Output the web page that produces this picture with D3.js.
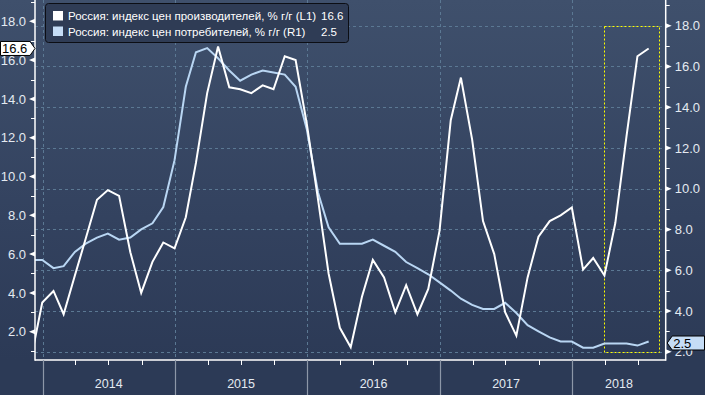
<!DOCTYPE html>
<html>
<head>
<meta charset="utf-8">
<script src="https://cdn.jsdelivr.net/npm/d3@7"></script>
<style>
  html, body { margin: 0; padding: 0; background: #2c3a56; }
  svg { display: block; }
</style>
</head>
<body>
<div id="chart"></div>
<script>
// monthly observations, Nov 2013 .. Jul 2018 (month-end)
const firstMonth = [2013, 10]; // year, zero-based month
const ppi = [
  0.6, 3.5, 4.1, 2.9, 4.9, 6.8, 8.8, 9.3, 9.0, 6.1, 4.0, 5.6, 6.6, 6.3,
  7.9, 10.7, 14.3, 16.7, 14.6, 14.5, 14.3, 14.7, 14.5, 16.2, 16.0, 12.7,
  8.8, 5.0, 2.2, 1.2, 3.8, 5.7, 4.8, 3.0, 4.4, 2.9, 4.2, 7.2,
  12.9, 15.1, 11.9, 7.7, 6.0, 3.0, 1.8, 4.8, 6.9, 7.7, 8.0, 8.4,
  5.2, 5.8, 4.9, 7.6, 12.1, 16.2, 16.6
];
const cpi = [
  6.5, 6.5, 6.1, 6.2, 6.9, 7.3, 7.6, 7.8, 7.5, 7.6, 8.0, 8.3, 9.1, 11.4,
  15.0, 16.7, 16.9, 16.4, 15.8, 15.3, 15.6, 15.8, 15.7, 15.6, 15.0, 12.9,
  9.8, 8.1, 7.3, 7.3, 7.3, 7.5, 7.2, 6.9, 6.4, 6.1, 5.8, 5.4,
  5.0, 4.6, 4.3, 4.1, 4.1, 4.4, 3.9, 3.3, 3.0, 2.7, 2.5, 2.5,
  2.2, 2.2, 2.4, 2.4, 2.4, 2.3, 2.5
];
const seriesNames = [
  "Россия: индекс цен производителей, % г/г (L1)",
  "Россия: индекс цен потребителей, % г/г (R1)"
];
const lastValues = ["16.6", "2.5"];
const years = [2014, 2015, 2016, 2017, 2018];
const leftTicks = [2, 4, 6, 8, 10, 12, 14, 16, 18];
const rightTicks = [2, 4, 6, 8, 10, 12, 14, 16, 18];
// dotted highlight box: Mar 2018 .. Aug 2018, right axis 2..18
const highlightDates = ["2018-03-31", "2018-08-31"];
const highlightRange = [2, 18];

const width = 705;
const height = 395;
const plotLeft = 35, plotRight = 665.7, plotTop = 0, plotBottom = 360;

const dates = ppi.map((_, i) => new Date(Date.UTC(firstMonth[0], firstMonth[1] + i + 1, 0)));

const x = d3.scaleUtc()
  .domain([new Date(Date.UTC(2013, 11, 11)), new Date(Date.UTC(2018, 8, 16))])
  .range([plotLeft, plotRight]);
const yL = d3.scaleLinear().domain([2, 18]).range([331.7, 21.3]);
const yR = d3.scaleLinear().domain([2, 18]).range([351.7, 25.7]);

const svg = d3.select("#chart").append("svg")
  .attr("width", width)
  .attr("height", height)
  .style("font-family", "'Liberation Sans', Arial, sans-serif");

const defs = svg.append("defs");
const bg = defs.append("linearGradient").attr("id", "bg")
  .attr("x1", 0).attr("y1", 0).attr("x2", 0).attr("y2", 1);
bg.append("stop").attr("offset", "0%").attr("stop-color", "#3f506c");
bg.append("stop").attr("offset", "55%").attr("stop-color", "#33425f");
bg.append("stop").attr("offset", "91%").attr("stop-color", "#2c3a56");
bg.append("stop").attr("offset", "100%").attr("stop-color", "#2c3a56");
defs.append("clipPath").attr("id", "plotClip")
  .append("rect").attr("x", plotLeft).attr("y", plotTop)
  .attr("width", plotRight - plotLeft).attr("height", plotBottom - plotTop);

svg.append("rect").attr("width", width).attr("height", height).attr("fill", "url(#bg)");

const yearStart = (yr) => x(new Date(Date.UTC(yr, 0, 1)));

// grid
const grid = svg.append("g")
  .attr("stroke", "#5b7893")
  .attr("stroke-width", 1)
  .attr("stroke-dasharray", "3,3");
grid.selectAll("line.h")
  .data(rightTicks)
  .join("line")
  .attr("class", "h")
  .attr("x1", plotLeft).attr("x2", plotRight)
  .attr("y1", (d) => Math.round(yR(d)) + 0.5)
  .attr("y2", (d) => Math.round(yR(d)) + 0.5);
grid.selectAll("line.v")
  .data(years)
  .join("line")
  .attr("class", "v")
  .attr("x1", (d) => Math.round(yearStart(d)) + 0.5)
  .attr("x2", (d) => Math.round(yearStart(d)) + 0.5)
  .attr("y1", plotTop).attr("y2", plotBottom);

// highlight box
const hx0 = x(new Date(highlightDates[0]));
const hx1 = x(new Date(highlightDates[1]));
svg.append("rect")
  .attr("x", Math.round(hx0) + 0.5)
  .attr("y", Math.round(yR(highlightRange[1])) + 0.5)
  .attr("width", Math.round(hx1 - hx0))
  .attr("height", Math.round(yR(highlightRange[0]) - yR(highlightRange[1])))
  .attr("fill", "none")
  .attr("stroke", "#ffff00")
  .attr("stroke-width", 1)
  .attr("stroke-dasharray", "2,2");

// lines
const plot = svg.append("g").attr("clip-path", "url(#plotClip)");
const lineL = d3.line().x((d, i) => x(dates[i])).y((d) => yL(d));
const lineR = d3.line().x((d, i) => x(dates[i])).y((d) => yR(d));
plot.append("path").datum(cpi)
  .attr("d", lineR)
  .attr("fill", "none")
  .attr("stroke", "#b9d6f3")
  .attr("stroke-width", 2);
plot.append("path").datum(ppi)
  .attr("d", lineL)
  .attr("fill", "none")
  .attr("stroke", "#ffffff")
  .attr("stroke-width", 2);

// axes frame
const frame = svg.append("g").attr("stroke", "#ffffff").attr("stroke-width", 1.5);
frame.append("line").attr("x1", plotLeft).attr("x2", plotLeft).attr("y1", 0).attr("y2", plotBottom + 0.75);
frame.append("line").attr("x1", plotRight).attr("x2", plotRight).attr("y1", 0).attr("y2", plotBottom + 0.75);
frame.append("line").attr("x1", plotLeft).attr("x2", plotRight).attr("y1", plotBottom).attr("y2", plotBottom);

const labelColor = "#e4eaf1";

// left axis
const axL = svg.append("g").attr("transform", `translate(${plotLeft},0)`)
  .call(d3.axisLeft(yL).tickValues(leftTicks).tickFormat(d3.format(".1f")).tickSize(0).tickPadding(9));
axL.select(".domain").remove();
axL.selectAll("text").attr("fill", labelColor).style("font-size", "13px");
const minorL = d3.range(1, 20, 2);
svg.append("g").selectAll("line").data(minorL).join("line")
  .attr("x1", plotLeft - 4).attr("x2", plotLeft)
  .attr("y1", (d) => Math.round(yL(d)) + 0.5).attr("y2", (d) => Math.round(yL(d)) + 0.5)
  .attr("stroke", "#ffffff").attr("stroke-width", 1);
svg.append("g").selectAll("path").data(leftTicks).join("path")
  .attr("d", (d) => `M${plotLeft},${yL(d) - 2.5}L${plotLeft - 6},${yL(d)}L${plotLeft},${yL(d) + 2.5}Z`)
  .attr("fill", "#ffffff");

// right axis
const axR = svg.append("g").attr("transform", `translate(${plotRight},0)`)
  .call(d3.axisRight(yR).tickValues(rightTicks).tickFormat(d3.format(".1f")).tickSize(0).tickPadding(9));
axR.select(".domain").remove();
axR.selectAll("text").attr("fill", labelColor).style("font-size", "13px");
const minorR = d3.range(3, 20, 2);
svg.append("g").selectAll("line").data(minorR).join("line")
  .attr("x1", plotRight).attr("x2", plotRight + 4)
  .attr("y1", (d) => Math.round(yR(d)) + 0.5).attr("y2", (d) => Math.round(yR(d)) + 0.5)
  .attr("stroke", "#ffffff").attr("stroke-width", 1);
svg.append("g").selectAll("path").data(rightTicks).join("path")
  .attr("d", (d) => `M${plotRight},${yR(d) - 2.5}L${plotRight + 6},${yR(d)}L${plotRight},${yR(d) + 2.5}Z`)
  .attr("fill", "#ffffff");

// bottom axis: year separators, quarter ticks, year labels
const xDomain = x.domain();
svg.append("g").selectAll("line").data(years).join("line")
  .attr("x1", (d) => Math.round(yearStart(d)) + 0.5)
  .attr("x2", (d) => Math.round(yearStart(d)) + 0.5)
  .attr("y1", plotBottom).attr("y2", height)
  .attr("stroke", "#8d97a8").attr("stroke-width", 1.2);
const quarters = d3.utcMonth.every(3).range(xDomain[0], xDomain[1])
  .filter((d) => d.getUTCMonth() !== 0);
svg.append("g").selectAll("line").data(quarters).join("line")
  .attr("x1", (d) => Math.round(x(d)) + 0.5)
  .attr("x2", (d) => Math.round(x(d)) + 0.5)
  .attr("y1", plotBottom).attr("y2", plotBottom + 5)
  .attr("stroke", "#ffffff").attr("stroke-width", 1);
svg.append("g").selectAll("text").data(years).join("text")
  .attr("x", (d) => {
    const a = Math.max(yearStart(d), plotLeft);
    const b = Math.min(yearStart(d + 1), plotRight);
    return (a + b) / 2;
  })
  .attr("y", 388)
  .attr("text-anchor", "middle")
  .attr("fill", labelColor)
  .style("font-size", "12.5px")
  .text((d) => d);

// last value tags
const tagL = yL(+lastValues[0]);
svg.append("path")
  .attr("d", `M0.5,${tagL - 7}H30L35,${tagL}L30,${tagL + 7}H0.5Z`)
  .attr("fill", "#ffffff").attr("stroke", "#000000").attr("stroke-width", 1);
svg.append("text").attr("x", 2).attr("y", tagL + 4.5)
  .attr("fill", "#000000").style("font-size", "13px").text(lastValues[0]);

const tagR = yR(+lastValues[1]) + 1.5;
svg.append("path")
  .attr("d", `M${plotRight + 1.5},${tagR}L${plotRight + 6.5},${tagR - 7}H704.5V${tagR + 7}H${plotRight + 6.5}Z`)
  .attr("fill", "#c6ddf6").attr("stroke", "#000000").attr("stroke-width", 1);
svg.append("text").attr("x", plotRight + 7.5).attr("y", tagR + 4.5)
  .attr("fill", "#000000").style("font-size", "13px").text(lastValues[1]);

// legend
const legend = svg.append("g");
legend.append("rect")
  .attr("x", 45.5).attr("y", 3.5).attr("width", 303).attr("height", 39).attr("rx", 3)
  .attr("fill", "#2f3c55").attr("stroke", "#0c0e14").attr("stroke-width", 1);
const swatches = ["#ffffff", "#c6ddf6"];
seriesNames.forEach((name, i) => {
  const yy = 11 + i * 15.5;
  legend.append("rect").attr("x", 53).attr("y", yy).attr("width", 10).attr("height", 9.5)
    .attr("fill", swatches[i]);
  legend.append("text").attr("x", 68).attr("y", yy + 9)
    .attr("fill", "#ffffff").style("font-size", "11.5px").text(name);
  legend.append("text").attr("x", 321).attr("y", yy + 9)
    .attr("fill", "#ffffff").style("font-size", "11.5px").text(lastValues[i]);
});
</script>
</body>
</html>
